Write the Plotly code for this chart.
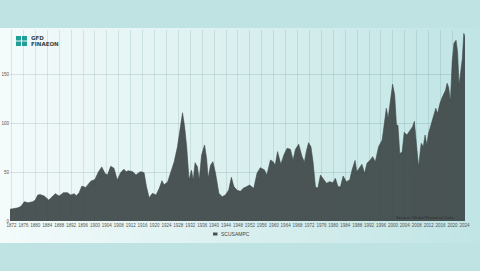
import plotly.graph_objects as go

series_name = "SCUSAMPC"
years = [1871.5, 1872.2, 1873.0, 1874.2, 1875.2, 1876.3, 1877.5, 1879.1, 1880.0, 1880.8,
         1881.6, 1883.0, 1884.5, 1885.8, 1886.7, 1888.0, 1889.4, 1890.8, 1891.9, 1893.0,
         1893.8, 1894.7, 1895.6, 1896.9, 1898.6, 1900.0, 1901.2, 1902.3, 1903.4, 1904.2,
         1905.3, 1906.4, 1907.5, 1908.6, 1909.7, 1910.5, 1911.2, 1912.7, 1913.8, 1914.7,
         1915.4, 1916.5, 1917.3, 1918.2, 1919.3, 1920.5, 1921.6, 1922.5, 1923.2, 1924.4,
         1925.5, 1926.6, 1927.7, 1928.6, 1929.4, 1930.1, 1930.8, 1931.6, 1932.4, 1933.0,
         1933.6, 1934.4, 1935.0, 1935.8, 1936.8, 1937.5, 1938.0, 1938.8, 1939.6, 1940.5,
         1941.6, 1942.7, 1943.8, 1944.9, 1945.8, 1946.6, 1947.7, 1948.8, 1949.9, 1950.5,
         1951.9, 1953.3, 1954.4, 1955.5, 1956.9, 1957.7, 1958.9, 1959.8, 1960.5, 1961.3,
         1962.4, 1963.4, 1964.5, 1965.6, 1966.5, 1967.3, 1968.4, 1969.5, 1970.3, 1971.0,
         1971.7, 1972.5, 1973.2, 1974.0, 1974.8, 1975.7, 1976.6, 1977.7, 1978.8, 1979.9,
         1980.7, 1981.6, 1982.4, 1983.3, 1984.4, 1985.5, 1986.3, 1987.3, 1987.9, 1988.9,
         1989.6, 1990.5, 1991.3, 1992.4, 1993.2, 1994.1, 1995.2, 1996.4, 1997.2, 1997.8,
         1998.4, 1999.2, 1999.9, 2000.6, 2001.2, 2001.7, 2002.3, 2003.1, 2003.8, 2004.7,
         2005.6, 2006.6, 2007.2, 2007.7, 2008.2, 2008.6, 2009.5, 2010.2, 2010.8, 2011.4,
         2011.9, 2012.8, 2013.6, 2014.4, 2015.0, 2015.8, 2016.6, 2017.3, 2017.7, 2018.2,
         2018.7, 2019.3, 2019.9, 2020.5, 2021.2, 2021.7, 2022.2, 2022.7, 2023.3, 2023.8,
         2024.2]
values = [12, 12.2, 12.8, 13.5, 15, 19.7, 18.7, 19.7, 21.4, 26.5,
          27, 25.5, 21.4, 24.8, 28, 25.5, 29, 29, 26.5, 28,
          25.8, 29, 35.7, 34.4, 40.8, 42.5, 50.3, 55.4, 48.6, 47,
          56, 54, 42, 49.3, 53, 50.5, 51.5, 50.5, 47, 49.5,
          50.5, 49.5, 35, 23.8, 28.3, 26.5, 33.4, 41.3, 37, 40,
          50.5, 60.7, 76, 93, 110.8, 96.5, 76, 42, 52, 42,
          59.7, 55.6, 42, 67.5, 77.8, 63.4, 43.7, 57, 60.7, 48.5,
          28.3, 24.9, 26.6, 31.7, 44.7, 35.5, 31.4, 30.5, 33.8, 34.5,
          36.8, 33.4, 48.8, 54.6, 52.3, 47, 62.4, 60.7, 57.3, 71,
          58, 67.5, 74.4, 73.4, 62.4, 73.4, 78.5, 65.9, 60.5, 72,
          80.1, 76, 60.7, 35.1, 33.4, 47, 43.7, 38.6, 40.3, 39.2,
          43.7, 35.1, 35.1, 46, 40.3, 42, 52.3, 62, 50.5, 55.6,
          58, 48.8, 59, 62.4, 65.8, 60.7, 76, 82.9, 101.6, 115.4,
          105, 122, 140, 129, 98, 98, 69, 70.6, 90.8, 88,
          92, 96.5, 102, 86, 72, 55.6, 79.5, 76, 88, 77.8,
          89, 98, 108.5, 115.4, 110, 120.4, 127, 130.6, 134, 141,
          137, 122, 163, 182, 185, 173, 139, 151, 166, 192,
          188]
x_ticks = list(range(1872, 2025, 4))
y_ticks = [0, 50, 100, 150]
source_text = "Source: Global Financial Data"
logo_top = "GFD"
logo_bottom = "FINAEON"

W, H = 480, 271
L, R, T, B = 10, 15, 30, 50
PW, PH = W - L - R, H - T - B

def px(x):
    return (x - L) / PW

def py(y):
    return (H - B - y) / PH

def lerp(c1, c2, t):
    return "rgb(%d,%d,%d)" % tuple(round(a + (b - a) * t) for a, b in zip(c1, c2))

shapes = []
# background panel with horizontal gradient
left_c = (244, 251, 251)
right_c = (192, 228, 228)
n = 48
for i in range(n):
    x0 = i * W / n
    x1 = (i + 1) * W / n + 0.6
    t = (i + 0.5) / n
    shapes.append(dict(type="rect", xref="paper", yref="paper",
                       x0=px(x0), x1=px(x1), y0=py(243), y1=py(28),
                       fillcolor=lerp(left_c, right_c, t), line_width=0, layer="below"))

# logo icon (2x2 grid)
for (ax, ay) in [(16, 36), (22, 36), (16, 41.5), (22, 41.5)]:
    shapes.append(dict(type="rect", xref="paper", yref="paper",
                       x0=px(ax), x1=px(ax + 5), y0=py(ay + 4.5), y1=py(ay),
                       fillcolor="#1f9f95", line_width=0, layer="above"))

# legend swatch
shapes.append(dict(type="rect", xref="paper", yref="paper",
                   x0=px(213), x1=px(217.5), y0=py(235.5), y1=py(232.5),
                   fillcolor="#4a5252", line_width=0))

fig = go.Figure()
fig.add_trace(go.Scatter(x=years, y=values, name=series_name, mode="lines",
                         fill="tozeroy", fillcolor="rgba(62,70,70,0.92)",
                         line=dict(color="rgba(62,70,70,0.95)", width=0.6),
                         showlegend=False))

annotations = [
    dict(xref="paper", yref="paper", x=px(29), y=py(38.0), text="<b>" + logo_top + "</b>",
         showarrow=False, xanchor="left", yanchor="middle",
         font=dict(family="DejaVu Sans", size=5.5, color="#34484a")),
    dict(xref="paper", yref="paper", x=px(29), y=py(43.6), text="<b>" + logo_bottom + "</b>",
         showarrow=False, xanchor="left", yanchor="middle",
         font=dict(family="DejaVu Sans", size=5.5, color="#34484a")),
    dict(xref="paper", yref="paper", x=px(456), y=py(217.8), text=source_text,
         showarrow=False, xanchor="right", yanchor="middle",
         font=dict(family="Liberation Sans", size=4.3, color="#2a3030")),
    dict(xref="paper", yref="paper", x=px(218.5), y=py(234), text=series_name,
         showarrow=False, xanchor="left", yanchor="middle",
         font=dict(family="Liberation Sans", size=5, color="#444")),
]

fig.update_layout(
    width=W, height=H,
    margin=dict(l=L, r=R, t=T, b=B, pad=0, autoexpand=False),
    paper_bgcolor="#bee3e2",
    plot_bgcolor="rgba(0,0,0,0)",
    shapes=shapes,
    annotations=annotations,
    showlegend=False,
    xaxis=dict(range=[1871.5, 2024.2], tickvals=x_ticks, ticktext=[str(v) for v in x_ticks],
               showgrid=True, gridcolor="rgba(0,60,60,0.10)", gridwidth=1,
               zeroline=False, showline=False, ticks="", automargin=False,
               tickfont=dict(family="Liberation Sans", size=4.5, color="#555"),
               tickangle=0),
    yaxis=dict(range=[0, 195.5], tickvals=y_ticks, ticktext=[str(v) for v in y_ticks],
               showgrid=True, gridcolor="rgba(0,60,60,0.12)", gridwidth=1,
               zeroline=False, showline=False, ticks="", automargin=False,
               tickfont=dict(family="Liberation Sans", size=4.5, color="#555")),
)

fig.write_html("out.html")
